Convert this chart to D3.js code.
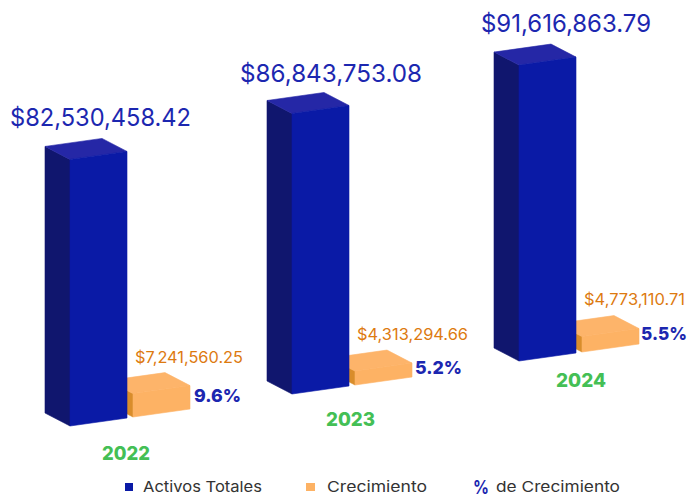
<!DOCTYPE html>
<html><head><meta charset="utf-8">
<script src="https://cdn.jsdelivr.net/npm/d3@7"></script>
<style>html,body{margin:0;background:#fff}svg{display:block}text{font-family:Inter,"Open Sans",sans-serif}</style>
</head><body><div id="c"></div>
<script>
const years = ["2022","2023","2024"];
const activos = [82530458.42, 86843753.08, 91616863.79];
const crecimiento = [7241560.25, 4313294.66, 4773110.71];
const porcentaje = [9.6, 5.2, 5.5];
const legendLabels = ["Activos Totales","Crecimiento","de Crecimiento"];

const W=689,H=498;
const svg=d3.select("#c").append("svg").attr("width",W).attr("height",H);
const money=d3.format("$,.2f");
const rows=years.map((y,i)=>({y,a:activos[i],c:crecimiento[i],p:porcentaje[i]}));

const xFront=d3.scaleOrdinal(years,[70,292,519]);
const floor=d3.scaleOrdinal(years,[426,394,361]);
const h=d3.scaleLinear([0,100e6],[0,323]);
const bw=57,rise=8,dx=25,dy=13;
const C={front:"#0a1aa6",side:"#10166e",top:"#2527a6",ofront:"#fdb264",oside:"#d98d2b",otop:"#fdb46a",
  blue:"#1c27b0",orange:"#dd7a10",green:"#44bf55",ink:"#333"};

function box(g,x,b,ht,front,side,top){
  const poly=(pts,fill)=>g.append("polygon").attr("points",pts.map(p=>p.join(",")).join(" "))
    .attr("fill",fill).attr("stroke",fill).attr("stroke-width",0.6).attr("stroke-linejoin","round");
  const t=b-ht;
  poly([[x,b],[x,t],[x-dx,t-dy],[x-dx,b-dy]],side);
  poly([[x,t],[x+bw,t-rise],[x+bw-dx,t-rise-dy],[x-dx,t-dy]],top);
  poly([[x,b],[x+bw,b-rise],[x+bw,t-rise],[x,t]],front);
}
const groups=svg.selectAll("g.yr").data(rows).join("g").attr("class","yr");
groups.each(function(d){
  const g=d3.select(this),x=xFront(d.y),b=floor(d.y);
  box(g,x+63,b-9,h(d.c),C.ofront,C.oside,C.otop);
  box(g,x,b,h(d.a),C.front,C.side,C.top);
});

function label(sel,xs,ys,ws,size,weight,fill,fmt){
  const X=d3.scaleOrdinal(years,xs),Y=d3.scaleOrdinal(years,ys),L=d3.scaleOrdinal(years,ws);
  sel.append("text").attr("x",d=>X(d.y)).attr("y",d=>Y(d.y)).attr("font-size",size).attr("font-weight",weight)
    .attr("fill",fill).attr("textLength",d=>L(d.y)).attr("lengthAdjust","spacingAndGlyphs").text(fmt);
}
label(groups,[10,240,481],[126,82,32],[181,182,170],24.5,400,C.blue,d=>money(d.a));
label(groups,[135,357,584],[363,340,305],[108,111,101],15.5,400,C.orange,d=>money(d.c));
label(groups,[194,415,641],[402,374,340],[47,47,46],18,800,C.blue,d=>d.p+"%");
label(groups,[102,326,556],[460,426,387],[48,49,50],19,800,C.green,d=>d.y);

const lg=svg.append("g");
lg.append("rect").attr("x",125).attr("y",483).attr("width",8).attr("height",8).attr("fill",C.front);
lg.append("rect").attr("x",306).attr("y",483).attr("width",9).attr("height",8).attr("fill",C.ofront);
const lt=(x,y,w,t,fill,size,wt)=>lg.append("text").attr("x",x).attr("y",y).attr("font-size",size).attr("font-weight",wt||400)
  .attr("fill",fill).attr("textLength",w).attr("lengthAdjust","spacingAndGlyphs").text(t);
lt(143,492,119,legendLabels[0],C.ink,15);
lt(327,492,100,legendLabels[1],C.ink,15);
lt(473,494,16,"%",C.blue,19,700);
lt(496,492,124,legendLabels[2],C.ink,15);
</script></body></html>
